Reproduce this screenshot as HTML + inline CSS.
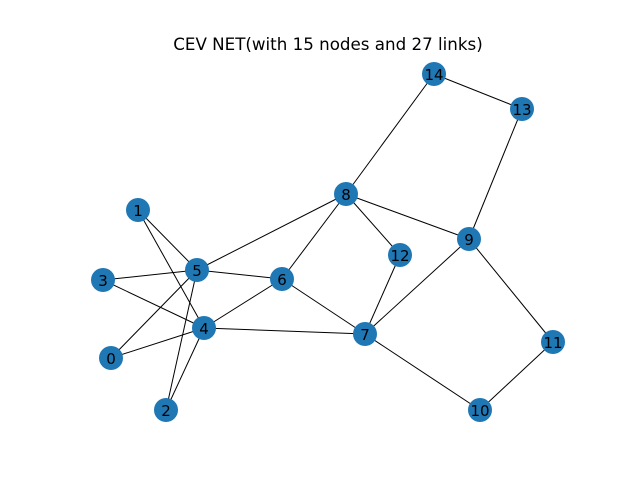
<!DOCTYPE html>
<html><head><meta charset="utf-8"><style>
html,body{margin:0;padding:0;background:#fff;}
</style></head><body>
<svg width="640" height="480" xmlns="http://www.w3.org/2000/svg" font-family="DejaVu Sans, Liberation Sans, sans-serif">
<rect width="640" height="480" fill="#fff"/>
<text x="328" y="50" font-size="16.7" text-anchor="middle" fill="#000">CEV NET(with 15 nodes and 27 links)</text>
<g stroke="#000" stroke-width="1">
<line x1="434" y1="74" x2="522" y2="109"/>
<line x1="434" y1="74" x2="346" y2="194"/>
<line x1="522" y1="109" x2="469" y2="239"/>
<line x1="346" y1="194" x2="469" y2="239"/>
<line x1="346" y1="194" x2="400" y2="255"/>
<line x1="346" y1="194" x2="197" y2="270"/>
<line x1="346" y1="194" x2="282" y2="279"/>
<line x1="138" y1="210" x2="197" y2="270"/>
<line x1="138" y1="210" x2="204" y2="328"/>
<line x1="469" y1="239" x2="365" y2="334"/>
<line x1="469" y1="239" x2="553" y2="342"/>
<line x1="400" y1="255" x2="365" y2="334"/>
<line x1="103" y1="280" x2="197" y2="270"/>
<line x1="103" y1="280" x2="204" y2="328"/>
<line x1="197" y1="270" x2="282" y2="279"/>
<line x1="197" y1="270" x2="111" y2="358"/>
<line x1="197" y1="270" x2="166" y2="410"/>
<line x1="282" y1="279" x2="204" y2="328"/>
<line x1="282" y1="279" x2="365" y2="334"/>
<line x1="204" y1="328" x2="365" y2="334"/>
<line x1="204" y1="328" x2="111" y2="358"/>
<line x1="204" y1="328" x2="166" y2="410"/>
<line x1="365" y1="334" x2="480" y2="410"/>
<line x1="553" y1="342" x2="480" y2="410"/>
</g>
<g fill="#1f77b4">
<circle cx="434" cy="74" r="12"/><circle cx="522" cy="109" r="12"/><circle cx="346" cy="194" r="12"/>
<circle cx="138" cy="210" r="12"/><circle cx="469" cy="239" r="12"/><circle cx="400" cy="255" r="12"/>
<circle cx="103" cy="280" r="12"/><circle cx="197" cy="270" r="12"/><circle cx="282" cy="279" r="12"/>
<circle cx="204" cy="328" r="12"/><circle cx="365" cy="334" r="12"/><circle cx="111" cy="358" r="12"/>
<circle cx="553" cy="342" r="12"/><circle cx="166" cy="410" r="12"/><circle cx="480" cy="410" r="12"/>
</g>
<g font-size="15" text-anchor="middle" fill="#000">
<text x="434" y="80">14</text><text x="522" y="115">13</text><text x="346" y="200">8</text>
<text x="138" y="216">1</text><text x="469" y="245">9</text><text x="400" y="261">12</text>
<text x="103" y="286">3</text><text x="197" y="276">5</text><text x="282" y="285">6</text>
<text x="204" y="334">4</text><text x="365" y="340">7</text><text x="111" y="364">0</text>
<text x="553" y="348">11</text><text x="166" y="416">2</text><text x="480" y="416">10</text>
</g>
</svg>
</body></html>
